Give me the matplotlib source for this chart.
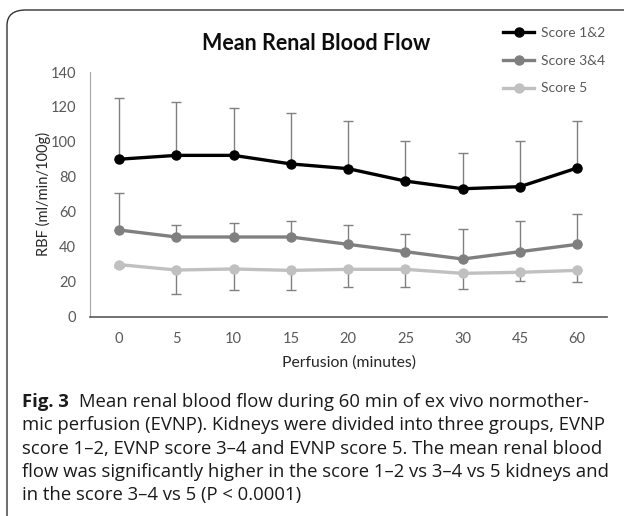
import numpy as np
import matplotlib
matplotlib.use('Agg')
import matplotlib.pyplot as plt
from matplotlib.patches import FancyBboxPatch

# data
minutes = ['0', '5', '10', '15', '20', '25', '30', '45', '60']
score12 = [90.1, 92.3, 92.3, 87.4, 84.7, 77.6, 73.2, 74.4, 85.1]
score12_hi = [125.3, 122.8, 119.6, 116.7, 112.1, 100.7, 93.8, 100.3, 112.1]
score34 = [49.6, 45.6, 45.6, 45.6, 41.4, 37.2, 33.0, 37.2, 41.4]
score34_hi = [70.9, 52.3, 53.4, 55.0, 52.5, 47.3, 50.0, 54.6, 58.8]
score5 = [29.8, 26.7, 27.3, 26.5, 27.1, 27.1, 24.8, 25.4, 26.5]
score5_lo = [28.6, 13.0, 15.1, 15.2, 17.2, 17.2, 15.8, 20.4, 19.7]
series_names = ['Score 1&2', 'Score 3&4', 'Score 5']
yticks = [0, 20, 40, 60, 80, 100, 120, 140]

caption_lines = [
    'Mean renal blood flow during 60 min of ex vivo normother-',
    'mic perfusion (EVNP). Kidneys were divided into three groups, EVNP',
    'score 1\u20132, EVNP score 3\u20134 and EVNP score 5. The mean renal blood',
    'flow was significantly higher in the score 1\u20132 vs 3\u20134 vs 5 kidneys and',
    'in the score 3\u20134 vs 5 (P < 0.0001)',
]

chart_font = 'Lato'
cap_font = 'Open Sans'

fig = plt.figure(figsize=(6.24, 5.16), dpi=100)
W, H = 624, 516

# rounded frame, only top-left corner visible
frame = FancyBboxPatch((7 / W, -0.2), 1.2, 1.2 - 10 / H,
                       boxstyle='round,pad=0,rounding_size=0.03',
                       transform=fig.transFigure, fill=False,
                       edgecolor='#333333', linewidth=1.0)
fig.patches.append(frame)

ax = fig.add_axes([90 / W, 1 - 316.7 / H, (607 - 90) / W, (316.7 - 72) / H])
x = np.arange(len(minutes))

zero = np.zeros(len(minutes))
ax.errorbar(x, score12, yerr=[zero, np.array(score12_hi) - np.array(score12)],
            fmt='none', ecolor='#808080', elinewidth=1, capsize=3.5, capthick=1, zorder=1)
ax.errorbar(x, score34, yerr=[zero, np.array(score34_hi) - np.array(score34)],
            fmt='none', ecolor='#808080', elinewidth=1, capsize=3.5, capthick=1, zorder=1)
ax.errorbar(x, score5, yerr=[np.array(score5) - np.array(score5_lo), zero],
            fmt='none', ecolor='#808080', elinewidth=1, capsize=3.5, capthick=1, zorder=1)

colors = ['#000000', '#7f7f7f', '#c0c0c0']
for vals, c, name in zip([score12, score34, score5], colors, series_names):
    ax.plot(x, vals, color=c, lw=2.4, marker='o', markersize=6.5, label=name, zorder=3)

ax.set_xlim(-0.507, 8.52)
ax.set_ylim(0, 140)
ax.set_yticks(yticks)
ax.set_xticks(x)
ax.set_xticklabels(minutes)
ax.tick_params(length=0, labelsize=10.5, labelcolor='#595959')
ax.tick_params(axis='y', pad=10)
ax.tick_params(axis='x', pad=11)
for lab in ax.get_xticklabels() + ax.get_yticklabels():
    lab.set_fontfamily(chart_font)
for s in ['top', 'right']:
    ax.spines[s].set_visible(False)
ax.spines['left'].set_color('#a6a6a6')
ax.spines['bottom'].set_color('#595959')
ax.spines['bottom'].set_linewidth(1.2)

ax.set_xlabel('Perfusion (minutes)', fontsize=11.3, family=chart_font, color='#262626', labelpad=7)
ax.set_ylabel('RBF (ml/min/100g)', fontsize=10.5, family=chart_font, color='#262626', labelpad=0)

fig.text(316 / W, 1 - 44 / H, 'Mean Renal Blood Flow', ha='center', va='center',
         fontsize=15.5, fontweight='bold', family=chart_font, color='#0d0d0d')

leg = ax.legend(loc='upper left', bbox_to_anchor=(497 / W, 1 - 21 / H),
                bbox_transform=fig.transFigure, frameon=False,
                prop={'family': chart_font, 'size': 10}, handlelength=2.3,
                handletextpad=0.5, labelspacing=1.15, borderaxespad=0)
for t in leg.get_texts():
    t.set_color('#595959')

# caption
cap_size = 13.3
y0 = 1 - 402 / H
dy = 23.3 / H
fig.canvas.draw()
r = fig.canvas.get_renderer()
bold = fig.text(22 / W, y0, 'Fig. 3', fontsize=cap_size, fontweight='bold', family=cap_font,
                va='center', color='#1a1a1a')
bw = bold.get_window_extent(renderer=r).width
fig.text((22 + bw + 10) / W, y0, caption_lines[0], fontsize=cap_size, family=cap_font,
         va='center', color='#1a1a1a')
for i, line in enumerate(caption_lines[1:], start=1):
    fig.text(22 / W, y0 - i * dy, line, fontsize=cap_size, family=cap_font,
             va='center', color='#1a1a1a')

fig.savefig('out.png', dpi=100)
